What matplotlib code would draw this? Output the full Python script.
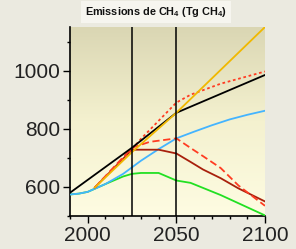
import numpy as np
import matplotlib
matplotlib.use("Agg")
import matplotlib.pyplot as plt
from matplotlib.colors import LinearSegmentedColormap

plt.rcParams['font.family'] = ['Liberation Sans', 'DejaVu Sans']
plt.rcParams['mathtext.fontset'] = 'custom'
plt.rcParams['mathtext.bf'] = 'Liberation Sans:bold'
plt.rcParams['mathtext.rm'] = 'Liberation Sans:bold'

title = r"Emissions de CH$_\mathbf{4}$ (Tg CH$_\mathbf{4}$)"

# Data
black_x = [1990, 2025, 2050, 2075, 2100]
black_y = [580, 735, 855, 920, 985]

blue_x = [1990, 1995, 2000, 2010, 2020, 2030, 2040, 2050, 2060, 2070, 2080, 2090, 2100]
blue_y = [574, 577, 583, 610, 645, 690, 730, 767, 790, 812, 832, 848, 862]

green_x = [1990, 1995, 2000, 2010, 2020, 2025, 2030, 2040, 2050, 2058, 2075, 2100]
green_y = [574, 577, 583, 610, 636, 645, 648, 648, 622, 614, 572, 502]

yellow_x = [2004, 2025, 2050, 2100]
yellow_y = [598, 720, 855, 1150]

reddot_x = [2004, 2025, 2030, 2050, 2058, 2075, 2100]
reddot_y = [598, 730, 765, 890, 917, 955, 997]

reddash_x = [2004, 2025, 2035, 2050, 2058, 2065, 2075, 2085, 2100]
reddash_y = [598, 735, 755, 767, 734, 706, 665, 605, 535]

darkred_x = [2004, 2025, 2040, 2050, 2058, 2065, 2075, 2085, 2100]
darkred_y = [598, 728, 728, 715, 686, 660, 630, 595, 550]

vlines = [2025, 2050]
xticks = [2000, 2050, 2100]
yticks = [600, 800, 1000]

fig = plt.figure(figsize=(2.96, 2.49), dpi=100)
fig.patch.set_facecolor('#ebeae0')
ax = fig.add_axes([70/296, 1-216/249, 195/296, 189/249])

cmap = LinearSegmentedColormap.from_list('bg', ['#fefce2', '#f4f1cf', '#dad6b3'])
grad = np.linspace(0, 1, 256).reshape(-1, 1)
ax.imshow(grad, cmap=cmap, aspect='auto', extent=[0, 1, 0, 1],
          transform=ax.transAxes, origin='lower', zorder=0)

lw = 1.3
ax.plot(green_x, green_y, color='#22e022', lw=lw, zorder=3)
ax.plot(blue_x, blue_y, color='#44b4ff', lw=lw, zorder=3)
ax.plot(darkred_x, darkred_y, color='#a8200c', lw=lw, zorder=3)
ax.plot(reddash_x, reddash_y, color='#ff3c22', lw=lw, ls=(0, (4, 2)), zorder=3)
ax.plot(reddot_x, reddot_y, color='#ff3c22', lw=lw, ls=(0, (1.5, 1.5)), zorder=3)
ax.plot(black_x, black_y, color='#000000', lw=lw, zorder=4)
ax.plot(yellow_x, yellow_y, color='#f0b800', lw=lw, zorder=4)

for v in vlines:
    ax.axvline(v, color='black', lw=1.1, zorder=5)

ax.set_xlim(1990, 2100)
ax.set_ylim(500, 1150)
ax.set_xticks(xticks)
ax.set_xticks(np.arange(1990, 2101, 10), minor=True)
ax.set_yticks(yticks)
ax.set_yticks(np.arange(500, 1151, 100), minor=True)
ax.tick_params(axis='both', which='major', length=5, width=1, labelsize=15,
               labelcolor='#222222', pad=2)
ax.tick_params(axis='both', which='minor', length=2.5, width=1)
for s in ['top', 'right']:
    ax.spines[s].set_visible(False)
for s in ['left', 'bottom']:
    ax.spines[s].set_linewidth(1.2)

fig.text(156/296, 1-12/249, title, ha='center', va='center', fontsize=7.8,
         fontweight='bold', color='#111111',
         bbox=dict(boxstyle='square,pad=0.35', facecolor='#f6f5ef', edgecolor='none'))

fig.savefig('out.png', dpi=100, facecolor=fig.get_facecolor())
